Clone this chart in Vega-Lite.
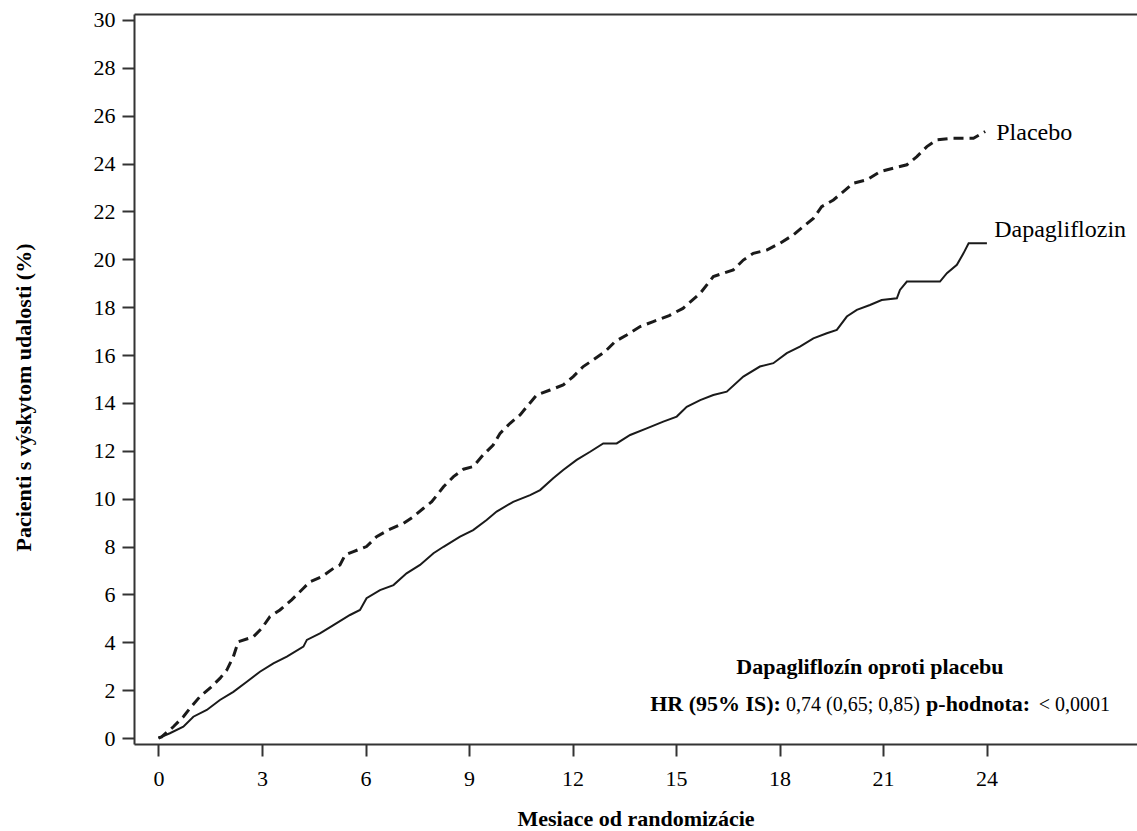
{
  "$schema": "https://vega.github.io/schema/vega-lite/v6.json",
  "autosize": "none",
  "width": 1003,
  "height": 730,
  "padding": {"left": 134, "top": 14, "right": 0, "bottom": 87},
  "background": "white",
  "config": {
    "font": "Liberation Serif",
    "view": {"stroke": null},
    "axis": {"grid": false, "domainWidth": 2, "tickSize": 12, "tickWidth": 2},
    "axisRight": {"domain": false, "ticks": false, "labels": false, "titleOpacity": 0}
  },
  "datasets": {
    "curves": [
      {"group": "Dapagliflozin", "month": 0, "pct": 0},
      {"group": "Dapagliflozin", "month": 0.33, "pct": 0.2},
      {"group": "Dapagliflozin", "month": 0.72, "pct": 0.47},
      {"group": "Dapagliflozin", "month": 1.01, "pct": 0.89},
      {"group": "Dapagliflozin", "month": 1.4, "pct": 1.17},
      {"group": "Dapagliflozin", "month": 1.78, "pct": 1.59},
      {"group": "Dapagliflozin", "month": 2.17, "pct": 1.93},
      {"group": "Dapagliflozin", "month": 2.56, "pct": 2.35},
      {"group": "Dapagliflozin", "month": 2.94, "pct": 2.77},
      {"group": "Dapagliflozin", "month": 3.33, "pct": 3.12},
      {"group": "Dapagliflozin", "month": 3.72, "pct": 3.4},
      {"group": "Dapagliflozin", "month": 4.2, "pct": 3.82},
      {"group": "Dapagliflozin", "month": 4.3, "pct": 4.1},
      {"group": "Dapagliflozin", "month": 4.68, "pct": 4.37},
      {"group": "Dapagliflozin", "month": 5.07, "pct": 4.72},
      {"group": "Dapagliflozin", "month": 5.55, "pct": 5.14},
      {"group": "Dapagliflozin", "month": 5.84, "pct": 5.35},
      {"group": "Dapagliflozin", "month": 6.03, "pct": 5.84},
      {"group": "Dapagliflozin", "month": 6.42, "pct": 6.18},
      {"group": "Dapagliflozin", "month": 6.81, "pct": 6.39},
      {"group": "Dapagliflozin", "month": 7.19, "pct": 6.88},
      {"group": "Dapagliflozin", "month": 7.58, "pct": 7.23},
      {"group": "Dapagliflozin", "month": 7.97, "pct": 7.72},
      {"group": "Dapagliflozin", "month": 8.26, "pct": 7.99},
      {"group": "Dapagliflozin", "month": 8.74, "pct": 8.41},
      {"group": "Dapagliflozin", "month": 9.12, "pct": 8.69},
      {"group": "Dapagliflozin", "month": 9.51, "pct": 9.11},
      {"group": "Dapagliflozin", "month": 9.8, "pct": 9.46},
      {"group": "Dapagliflozin", "month": 10.28, "pct": 9.87},
      {"group": "Dapagliflozin", "month": 10.77, "pct": 10.15},
      {"group": "Dapagliflozin", "month": 11.06, "pct": 10.36},
      {"group": "Dapagliflozin", "month": 11.44, "pct": 10.85},
      {"group": "Dapagliflozin", "month": 11.73, "pct": 11.2},
      {"group": "Dapagliflozin", "month": 12.12, "pct": 11.62},
      {"group": "Dapagliflozin", "month": 12.51, "pct": 11.96},
      {"group": "Dapagliflozin", "month": 12.89, "pct": 12.31},
      {"group": "Dapagliflozin", "month": 13.28, "pct": 12.31},
      {"group": "Dapagliflozin", "month": 13.67, "pct": 12.66},
      {"group": "Dapagliflozin", "month": 14.15, "pct": 12.94},
      {"group": "Dapagliflozin", "month": 14.63, "pct": 13.22},
      {"group": "Dapagliflozin", "month": 15.02, "pct": 13.43},
      {"group": "Dapagliflozin", "month": 15.31, "pct": 13.84},
      {"group": "Dapagliflozin", "month": 15.7, "pct": 14.12},
      {"group": "Dapagliflozin", "month": 16.08, "pct": 14.33},
      {"group": "Dapagliflozin", "month": 16.47, "pct": 14.47},
      {"group": "Dapagliflozin", "month": 16.95, "pct": 15.1},
      {"group": "Dapagliflozin", "month": 17.43, "pct": 15.52},
      {"group": "Dapagliflozin", "month": 17.82, "pct": 15.66},
      {"group": "Dapagliflozin", "month": 18.21, "pct": 16.08},
      {"group": "Dapagliflozin", "month": 18.59, "pct": 16.35},
      {"group": "Dapagliflozin", "month": 18.98, "pct": 16.7},
      {"group": "Dapagliflozin", "month": 19.37, "pct": 16.91},
      {"group": "Dapagliflozin", "month": 19.66, "pct": 17.05},
      {"group": "Dapagliflozin", "month": 19.95, "pct": 17.61},
      {"group": "Dapagliflozin", "month": 20.24, "pct": 17.89},
      {"group": "Dapagliflozin", "month": 20.62, "pct": 18.09},
      {"group": "Dapagliflozin", "month": 20.96, "pct": 18.3},
      {"group": "Dapagliflozin", "month": 21.4, "pct": 18.37},
      {"group": "Dapagliflozin", "month": 21.49, "pct": 18.72},
      {"group": "Dapagliflozin", "month": 21.69, "pct": 19.07},
      {"group": "Dapagliflozin", "month": 22.65, "pct": 19.07},
      {"group": "Dapagliflozin", "month": 22.85, "pct": 19.42},
      {"group": "Dapagliflozin", "month": 23.14, "pct": 19.77},
      {"group": "Dapagliflozin", "month": 23.33, "pct": 20.25},
      {"group": "Dapagliflozin", "month": 23.48, "pct": 20.67},
      {"group": "Dapagliflozin", "month": 24.01, "pct": 20.67},
      {"group": "Placebo", "month": 0, "pct": 0},
      {"group": "Placebo", "month": 0.09, "pct": 0.05},
      {"group": "Placebo", "month": 0.43, "pct": 0.47},
      {"group": "Placebo", "month": 0.72, "pct": 0.89},
      {"group": "Placebo", "month": 0.91, "pct": 1.24},
      {"group": "Placebo", "month": 1.2, "pct": 1.73},
      {"group": "Placebo", "month": 1.49, "pct": 2.08},
      {"group": "Placebo", "month": 1.78, "pct": 2.49},
      {"group": "Placebo", "month": 1.98, "pct": 2.84},
      {"group": "Placebo", "month": 2.17, "pct": 3.4},
      {"group": "Placebo", "month": 2.31, "pct": 4.02},
      {"group": "Placebo", "month": 2.75, "pct": 4.23},
      {"group": "Placebo", "month": 2.99, "pct": 4.58},
      {"group": "Placebo", "month": 3.23, "pct": 5.07},
      {"group": "Placebo", "month": 3.52, "pct": 5.35},
      {"group": "Placebo", "month": 3.86, "pct": 5.77},
      {"group": "Placebo", "month": 4.2, "pct": 6.26},
      {"group": "Placebo", "month": 4.39, "pct": 6.53},
      {"group": "Placebo", "month": 4.73, "pct": 6.74},
      {"group": "Placebo", "month": 5.07, "pct": 7.09},
      {"group": "Placebo", "month": 5.26, "pct": 7.23},
      {"group": "Placebo", "month": 5.41, "pct": 7.65},
      {"group": "Placebo", "month": 5.65, "pct": 7.79},
      {"group": "Placebo", "month": 6.03, "pct": 8.0},
      {"group": "Placebo", "month": 6.32, "pct": 8.41},
      {"group": "Placebo", "month": 6.66, "pct": 8.69},
      {"group": "Placebo", "month": 7.1, "pct": 8.97},
      {"group": "Placebo", "month": 7.39, "pct": 9.25},
      {"group": "Placebo", "month": 7.68, "pct": 9.6},
      {"group": "Placebo", "month": 7.92, "pct": 9.87},
      {"group": "Placebo", "month": 8.26, "pct": 10.5},
      {"group": "Placebo", "month": 8.55, "pct": 10.92},
      {"group": "Placebo", "month": 8.84, "pct": 11.23},
      {"group": "Placebo", "month": 9.12, "pct": 11.34},
      {"group": "Placebo", "month": 9.41, "pct": 11.83},
      {"group": "Placebo", "month": 9.7, "pct": 12.24},
      {"group": "Placebo", "month": 9.9, "pct": 12.73},
      {"group": "Placebo", "month": 10.19, "pct": 13.15},
      {"group": "Placebo", "month": 10.48, "pct": 13.5},
      {"group": "Placebo", "month": 10.72, "pct": 13.92},
      {"group": "Placebo", "month": 10.96, "pct": 14.33},
      {"group": "Placebo", "month": 11.35, "pct": 14.54},
      {"group": "Placebo", "month": 11.73, "pct": 14.75},
      {"group": "Placebo", "month": 12.02, "pct": 15.1},
      {"group": "Placebo", "month": 12.31, "pct": 15.52},
      {"group": "Placebo", "month": 12.6, "pct": 15.8},
      {"group": "Placebo", "month": 12.94, "pct": 16.14},
      {"group": "Placebo", "month": 13.23, "pct": 16.56},
      {"group": "Placebo", "month": 13.57, "pct": 16.84},
      {"group": "Placebo", "month": 13.96, "pct": 17.19},
      {"group": "Placebo", "month": 14.34, "pct": 17.4},
      {"group": "Placebo", "month": 14.8, "pct": 17.65},
      {"group": "Placebo", "month": 15.2, "pct": 17.95},
      {"group": "Placebo", "month": 15.7, "pct": 18.58},
      {"group": "Placebo", "month": 16.08, "pct": 19.28},
      {"group": "Placebo", "month": 16.66, "pct": 19.56},
      {"group": "Placebo", "month": 16.95, "pct": 19.97},
      {"group": "Placebo", "month": 17.24, "pct": 20.25},
      {"group": "Placebo", "month": 17.63, "pct": 20.39},
      {"group": "Placebo", "month": 18.01, "pct": 20.67},
      {"group": "Placebo", "month": 18.4, "pct": 21.02},
      {"group": "Placebo", "month": 18.69, "pct": 21.37},
      {"group": "Placebo", "month": 18.98, "pct": 21.71},
      {"group": "Placebo", "month": 19.22, "pct": 22.2},
      {"group": "Placebo", "month": 19.56, "pct": 22.48},
      {"group": "Placebo", "month": 19.85, "pct": 22.83},
      {"group": "Placebo", "month": 20.14, "pct": 23.18},
      {"group": "Placebo", "month": 20.53, "pct": 23.32},
      {"group": "Placebo", "month": 20.91, "pct": 23.66},
      {"group": "Placebo", "month": 21.3, "pct": 23.81},
      {"group": "Placebo", "month": 21.69, "pct": 23.95},
      {"group": "Placebo", "month": 21.98, "pct": 24.29},
      {"group": "Placebo", "month": 22.27, "pct": 24.71},
      {"group": "Placebo", "month": 22.56, "pct": 24.99},
      {"group": "Placebo", "month": 23.04, "pct": 25.06},
      {"group": "Placebo", "month": 23.62, "pct": 25.06},
      {"group": "Placebo", "month": 23.96, "pct": 25.34}
    ],
    "seriesLabels": [
      {"label": "Placebo", "month": 24.28, "pct": 24.99},
      {"label": "Dapagliflozin", "month": 24.22, "pct": 20.94}
    ],
    "boldCenter": [
      {"label": "Dapagliflozín oproti placebu", "month": 20.62, "pct": 2.67}
    ],
    "boldRight": [
      {"label": "HR (95% IS):", "month": 18.04, "pct": 1.13},
      {"label": "p-hodnota:", "month": 25.26, "pct": 1.13}
    ],
    "regularLeft": [
      {"label": "0,74 (0,65; 0,85)", "month": 18.19, "pct": 1.13}
    ],
    "regularRight": [
      {"label": "< 0,0001", "month": 27.58, "pct": 1.13}
    ]
  },
  "encoding": {
    "x": {
      "field": "month",
      "type": "quantitative",
      "scale": {"domain": [-0.71, 28.36], "nice": false, "zero": false},
      "axis": null
    },
    "y": {
      "field": "pct",
      "type": "quantitative",
      "scale": {"domain": [-0.25, 30.25], "nice": false, "zero": false},
      "axis": null
    }
  },
  "resolve": {"axis": {"x": "independent", "y": "independent"}},
  "layer": [
    {
      "data": {"name": "curves"},
      "transform": [{"filter": "datum.group === 'Dapagliflozin'"}],
      "mark": {"type": "line", "color": "#1a1a1a", "strokeWidth": 2},
      "encoding": {
        "x": {
          "field": "month",
          "type": "quantitative",
          "axis": {
            "title": "Mesiace od randomizácie",
            "orient": "bottom",
            "values": [0, 3, 6, 9, 12, 15, 18, 21, 24],
            "labelPadding": 12,
            "labelFontSize": 22,
            "labelColor": "#000",
            "titleFontSize": 22,
            "titleFontWeight": "bold",
            "titleColor": "#000",
            "domainColor": "#333",
            "tickColor": "#333",
            "titleY": 74,
            "titleBaseline": "middle"
          }
        },
        "y": {
          "field": "pct",
          "type": "quantitative",
          "axis": {
            "title": "Pacienti s výskytom udalosti (%)",
            "orient": "left",
            "values": [0, 2, 4, 6, 8, 10, 12, 14, 16, 18, 20, 22, 24, 26, 28, 30],
            "labelPadding": 7,
            "labelFontSize": 22,
            "labelColor": "#000",
            "titleFontSize": 22,
            "titleFontWeight": "bold",
            "titleColor": "#000",
            "domainColor": "#333",
            "tickColor": "#333",
            "titleX": -111,
            "titleY": 383,
            "titleAlign": "center",
            "titleBaseline": "middle",
            "titleAngle": -90
          }
        }
      }
    },
    {
      "data": {"name": "curves"},
      "transform": [{"filter": "datum.group === 'Placebo'"}],
      "mark": {"type": "line", "color": "#1a1a1a", "strokeWidth": 3, "strokeDash": [10, 6]},
      "encoding": {
        "x": {
          "field": "month",
          "type": "quantitative",
          "axis": {"orient": "top", "labels": false, "ticks": false, "title": null, "domainColor": "#333"}
        }
      }
    },
    {
      "data": {"name": "seriesLabels"},
      "mark": {"type": "text", "align": "left", "baseline": "alphabetic", "fontSize": 24, "color": "#000"},
      "encoding": {"text": {"field": "label"}}
    },
    {
      "data": {"name": "boldCenter"},
      "mark": {"type": "text", "align": "center", "baseline": "alphabetic", "fontSize": 22, "fontWeight": "bold", "color": "#000"},
      "encoding": {"text": {"field": "label"}}
    },
    {
      "data": {"name": "boldRight"},
      "mark": {"type": "text", "align": "right", "baseline": "alphabetic", "fontSize": 22, "fontWeight": "bold", "color": "#000"},
      "encoding": {"text": {"field": "label"}}
    },
    {
      "data": {"name": "regularLeft"},
      "mark": {"type": "text", "align": "left", "baseline": "alphabetic", "fontSize": 20, "color": "#000"},
      "encoding": {"text": {"field": "label"}}
    },
    {
      "data": {"name": "regularRight"},
      "mark": {"type": "text", "align": "right", "baseline": "alphabetic", "fontSize": 20, "color": "#000"},
      "encoding": {"text": {"field": "label"}}
    }
  ]
}
